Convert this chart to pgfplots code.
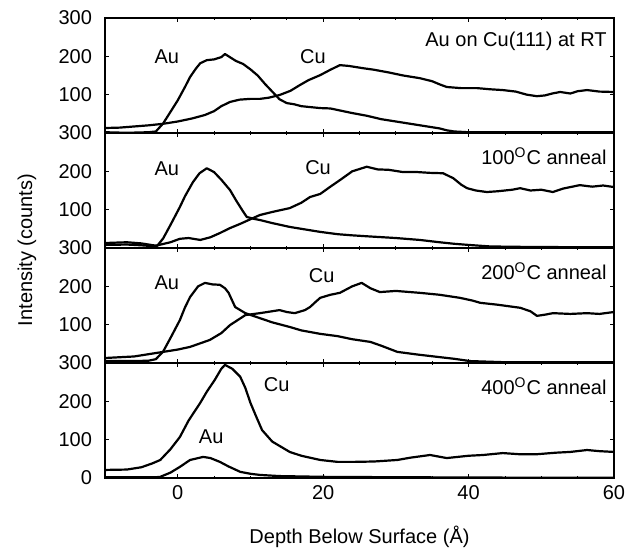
\documentclass[border=0pt]{standalone}
\usepackage{fontspec}
\setmainfont{Liberation Sans}
\usepackage{pgfplots}
\pgfplotsset{compat=1.18}
\pgfplotsset{
  panel/.style={
    scale only axis, width=254.5pt, height=57.5pt,
    xmin=-10, xmax=60, ymin=0, ymax=300,
    xtick={0,20,40,60}, minor x tick num=3,
    ytick={0,100,200,300}, yticklabels={,100,200,300},
    xticklabels={},
    major tick length=2pt, minor tick length=1.2pt,
    tick style={line width=0.4pt, black},
    axis line style={line width=0.9pt},
    /pgf/number format/assume math mode=true,
    yticklabel style={xshift=-3pt},
    font=\fontsize{10}{12}\selectfont,
    cycle list={{black, line width=1.1pt}},
    every axis plot post/.append style={black, line width=1.1pt, mark=none, line join=round},
    clip=true,
  },
}
\tikzset{
  ann/.style={anchor=north east, inner sep=0pt, xshift=-3.5pt, yshift=-7pt, font=\fontsize{10}{12}\selectfont},
  lab/.style={font=\fontsize{10}{12}\selectfont},
}
\begin{document}
\begin{tikzpicture}
\useasboundingbox (-52.5pt,-36.5pt) rectangle (267pt,239pt);
% Panel 1: RT
\begin{axis}[panel, at={(0pt,172.5pt)}]
\addplot coordinates {(-10,2) (-8,1) (-6,1) (-4,2) (-3,4) (-2,25) (-1,55) (0,85) (1,120) (1.7,146) (2.5,168) (3.1,182) (4,190) (5,192) (6,198) (6.5,206) (7,200) (8,188) (9,180) (10,166) (11,150) (12,128) (13,108) (14,88) (15,78) (16,75) (17,70) (18,68) (19.6,65) (21,64) (22,60) (24,52) (26,45) (28,36) (30,30) (32,24) (34,18) (36,12) (37,7) (38,4) (40,2) (45,2) (50,2) (55,2) (60,2)};
\addplot coordinates {(-10,13) (-8,14) (-6,17) (-4,20) (-2,24) (0,30) (2,38) (3.75,47) (5,57) (6,70) (7.2,81) (8.5,87) (10,89) (11.3,89) (12.5,92) (14,99) (15.5,110) (16.8,125) (18,138) (19.6,151) (21,165) (22.3,177) (23.5,175) (25.5,169) (27,165) (29,158) (31,150) (33.3,143) (35,135) (36,127) (37,120) (39,117) (41.2,117) (43,114) (44.7,112) (46.5,108) (48,100) (49.4,96) (50.5,98) (51.5,103) (52.6,107) (54,103) (55,109) (56.3,112) (58,108) (60,107)};
\node[lab] at (axis cs:-1.5,200) {Au};
\node[lab] at (axis cs:18.6,200) {Cu};
\node[ann] at (rel axis cs:1,1) {Au on Cu(111) at RT};
\end{axis}
% Panel 2: 100C
\begin{axis}[panel, at={(0pt,115pt)}]
\addplot coordinates {(-10,8) (-7,9) (-5,7) (-3.5,5) (-2.8,6) (-2,25) (-1,60) (0.3,107) (1,135) (2.1,172) (3,195) (4,208) (5,198) (6,178) (7.2,151) (8,125) (9,95) (9.5,81) (10.5,76) (11.3,73) (13,65) (15.4,55) (17,50) (19.6,42) (22,36) (24,33) (26.5,30) (30,26) (33.3,21) (36,15) (38,11) (40,8) (43,4) (47,3) (55,2) (60,2)};
\addplot coordinates {(-10,13) (-7,15) (-5,12) (-3,6) (-1,15) (0.3,24) (1.5,26) (3.1,21) (4.5,28) (5.8,39) (7.2,52) (8.6,63) (10,75) (11.3,86) (13,94) (15.4,104) (17,118) (18.2,133) (19.6,141) (21,160) (22.3,177) (24,200) (26,212) (27.5,205) (29,204) (31,198) (33,198) (34.7,196) (36.5,195) (37.9,182) (39,165) (39.8,156) (41,150) (42.5,146) (44,148) (46,152) (47.1,156) (48.5,150) (50,152) (51.6,146) (53,155) (55.3,164) (57,160) (58.5,163) (60,159)};
\node[lab] at (axis cs:-1.5,207) {Au};
\node[lab] at (axis cs:19.3,209) {Cu};
\node[ann] at (rel axis cs:1,1) {100\textsuperscript{O}C anneal};
\end{axis}
% Panel 3: 200C
\begin{axis}[panel, at={(0pt,57.5pt)}]
\addplot coordinates {(-10,5) (-6,5) (-4,6) (-3,10) (-2,30) (-1,65) (0.3,112) (1,145) (1.7,172) (2.8,200) (3.75,209) (4.8,205) (5.8,204) (6.5,195) (7,183) (7.9,146) (9.3,130) (11.3,117) (13,106) (15.4,94) (17,85) (19.6,76) (22,70) (24,62) (26.5,55) (28,45) (30.2,29) (33,22) (35.7,16) (38,11) (40.2,5) (45,2) (60,2)};
\addplot coordinates {(-10,13) (-6,17) (-3,26) (0,35) (1.7,42) (4.4,60) (6,78) (7.2,99) (8.5,115) (9.3,125) (11.3,130) (13,135) (14,138) (15,133) (16.1,130) (17.5,138) (18.2,146) (19,160) (19.6,170) (21,178) (22.3,183) (24,200) (25.3,209) (26.5,195) (27.8,185) (30,188) (33.3,183) (36,178) (38.8,170) (40.5,163) (41.6,157) (44,152) (47.1,144) (48.5,135) (49.4,123) (50.5,126) (51.6,130) (54,128) (56.3,130) (58,128) (60,133)};
\node[lab] at (axis cs:-1.5,209) {Au};
\node[lab] at (axis cs:19.8,228) {Cu};
\node[ann] at (rel axis cs:1,1) {200\textsuperscript{O}C anneal};
\end{axis}
% Panel 4: 400C
\begin{axis}[panel, at={(0pt,0pt)}, yticklabels={0,100,200,300}, xticklabels={0,20,40,60}]
\addplot coordinates {(-10,21) (-7,22) (-5,28) (-3.5,38) (-2.4,47) (-1,75) (0.3,107) (1.5,150) (3.1,196) (4,225) (5.1,256) (6,285) (6.5,295) (7.5,285) (8.6,264) (9.3,235) (10,196) (10.8,160) (11.6,125) (13,95) (15.4,68) (17,58) (19.6,47) (22,42) (24.1,42) (27,43) (30.2,47) (32,53) (34.7,60) (37,52) (40,58) (42,60) (44.7,65) (47,62) (49.4,62) (52,66) (54,68) (56.3,73) (58,70) (60,68)};
\addplot coordinates {(-10,2) (-6,2) (-3,2) (-2.4,3) (-1,14) (0.3,29) (1.7,47) (3.5,55) (4.5,52) (5.8,42) (7,30) (8.6,16) (10,11) (11.3,8) (14,5) (20,3) (30,2) (45,1) (60,1)};
\node[lab] at (axis cs:13.6,243) {Cu};
\node[lab] at (axis cs:4.6,107) {Au};
\node[ann] at (rel axis cs:1,1) {400\textsuperscript{O}C anneal};
\end{axis}
\node[lab, rotate=90] at (-39pt,114pt) {Intensity (counts)};
\node[lab] at (127.25pt,-29.5pt) {Depth Below Surface (Å)};
\end{tikzpicture}
\end{document}
